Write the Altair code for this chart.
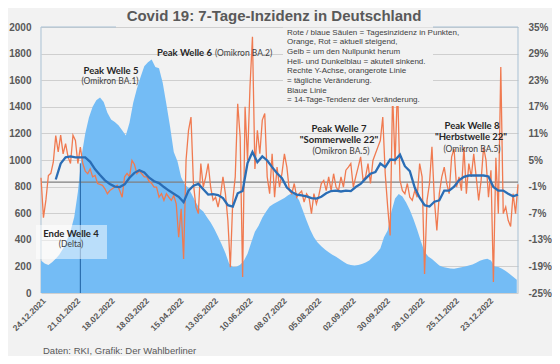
import altair as alt
import pandas as pd

# ---------------- data ----------------
# 7-day incidence, every 3 days starting 24.12.2021
incidence = [
    245, 222, 210, 232, 258, 290, 335, 395, 465, 570,
    760, 1030, 1200, 1320, 1400, 1450, 1469, 1436, 1355, 1305,
    1285, 1262, 1223, 1185, 1280, 1430, 1535, 1625, 1705, 1735,
    1755, 1700, 1690, 1580, 1420, 1250, 1060, 990, 870, 815,
    790, 735, 680, 636, 612, 570, 530, 482, 425, 365,
    300, 222, 196, 198, 212, 243, 295, 380, 460, 505,
    565, 610, 650, 670, 685, 700, 715, 735, 750, 740,
    696, 620, 545, 475, 420, 380, 352, 328, 307, 288,
    272, 254, 235, 218, 210, 207, 210, 218, 230, 245,
    272, 300, 335, 420, 470, 610, 710, 745, 725, 680,
    625, 555, 475, 390, 310, 275, 255, 232, 207, 196,
    190, 184, 183, 188, 193, 200, 207, 215, 228, 242,
    252, 258, 245, 200, 195, 183, 165, 144, 122, 100,
]

# daily change in %, every 2 days starting 24.12.2021
daily_change = [
    1.0, -8.0, -4.0, 1.5, 2.0, 4.5, 10.5, 6.8, 10.6, 6.4,
    8.7, 5.7, 4.2, 10.6, 9.4, 4.2, 7.9, 4.2, 2.5, 1.9,
    3.0, 1.2, 1.5, -0.3, -0.5, -0.7, -1.5, -2.6, -1.9, -1.5,
    -1.1, -0.7, -1.9, -3.4, 1.2, 2.0, 1.2, 4.9, 4.0, 1.9,
    2.5, 1.9, 1.2, 1.2, 0.2, -0.3, -1.1, -1.1,
    -3.4, -2.6, -4.1, -2.6, -3.4, -4.1, -3.0, -4.9, -12.4, -6.0,
    -17.3, 5.0, 11.7, 14.7, -0.3, -5.6, -7.1, 4.2, -1.1, 1.2,
    4.2, -1.1, -4.1, -3.4, -5.6, -3.0, 1.2, -2.6, -8.6, -19.2,
    -4.1, 1.2, 17.7, 10.2, -21.4, 17.0, 4.9, 21.5, 32.8, 3.0,
    11.7, 6.4, 14.0, 15.5, 1.2, -2.6, 6.4, -3.4, 3.4, -1.1,
    2.0, 6.4, 3.4, -1.9, -2.6, -0.3, -3.4, -2.6, -2.0, -4.5,
    -2.6, -3.4, -7.1, -2.6, -4.9, -3.0, -0.3, 0.4, -1.9, 1.2,
    -1.9, 1.9, -1.1, -1.9, 1.2, -1.1, 2.7, 3.4, 4.2, -1.1,
    1.2, 3.4, 5.7, 0.4, 1.2, 4.2, -0.3, 4.9, 6.4, 7.9,
    9.4, 14.7, 1.9, -5.6, -12.0, 20.0, 4.0, 22.0, 0.4, -1.9,
    -2.6, -0.3, -3.4, -4.1, -1.9, -3.4, 4.2, 1.2, -20.7, -4.1,
    -0.3, 8.0, -4.1, -10.9, -2.6, 1.2, 3.4, -0.3, -2.6, 5.7,
    7.5, -1.1, 1.2, -1.9, 7.9, -2.6, 4.2, 1.2, 6.4, 1.2,
    -4.1, 0.4, 7.9, 4.9, -3.4, 2.7, -22.5, 5.5, -7.1, 26.0,
    -7.1, -5.6, -8.6, -10.0, -2.6, -7.1, -0.5,
]

# 14-day trend in %, every 4 days starting 05.01.2022
trend_14 = [
    0.6, 4.2, 5.6, 5.8, 5.6, 5.6, 5.6, 4.6, 2.9, 1.6,
    0.4, -0.4, -1.0, -1.1, -0.5, 1.0, 2.1, 2.7, 2.2, 1.0,
    0.2, -0.2, -1.1, -1.9, -2.6, -3.3, -4.5, -1.9, -0.8, -0.4,
    -1.6, -2.8, -2.7, -2.9, -3.6, -5.2, -5.5, -2.5, -2.0, 4.3,
    6.8, 4.5, 5.8, 4.9, 3.4, 2.0, 0.9, -1.2, -2.2, -2.8,
    -3.0, -3.2, -3.6, -3.7, -3.3, -2.5, -2.0, -1.9, -2.1, -1.9,
    -2.0, -1.1, -0.4, 0.8, 1.9, 2.3, 4.2, 3.4, 5.1, 5.0,
    6.2, 3.6, 2.5, -1.2, -3.5, -5.2, -5.5, -4.4, -4.1, -1.9,
    -1.9, -1.0, 0.4, 1.2, 1.5, 1.5, 1.5, 1.5, 1.3, -1.1,
    -1.9, -1.9, -2.6, -3.2, -2.8,
]

tick_labels = [
    "24.12.2021", "21.01.2022", "18.02.2022", "18.03.2022", "15.04.2022",
    "13.05.2022", "10.06.2022", "08.07.2022", "05.08.2022", "02.09.2022",
    "30.09.2022", "28.10.2022", "25.11.2022", "23.12.2022",
]
left_ticks = [0, 200, 400, 600, 800, 1000, 1200, 1400, 1600, 1800, 2000]
right_ticks = [-25, -19, -13, -7, -1, 5, 11, 17, 23, 29, 35]

text_box_lines = [
    "Rote / blaue Säulen = Tagesinzidenz in Punkten,",
    "Orange, Rot = aktuell steigend,",
    "Gelb = um den Nullpunkt herum",
    "Hell- und Dunkelblau = akutell sinkend.",
    "Rechte Y-Achse, orangerote Linie",
    "= tägliche Veränderung.",
    " Blaue Linie",
    "= 14-Tage-Tendenz der Veränderung.",
]

START = pd.Timestamp("2021-12-24")
END = pd.Timestamp("2023-01-16")
WAVE4_END = "2022-01-25"

# ---------------- styling ----------------
BG = "#f2f2f2"
GRAY = "#595959"
AREA = "#74bcf5"
ORANGE = "#f07a50"
BLUE = "#2a6db5"
BORDER = "#a9c1d4"
AXFONT = "Liberation Sans"
ANNFONT = "Lato"
W, H = 477, 266


def series(vals, first_day, step):
    dates = [(START + pd.Timedelta(days=first_day + step * i)).strftime("%Y-%m-%d")
             for i in range(len(vals))]
    return pd.DataFrame({"date": dates, "value": vals})


def ms(ts):
    return int(pd.Timestamp(ts).tz_localize("UTC").timestamp() * 1000)


tick_ms = [ms(pd.to_datetime(t, format="%d.%m.%Y")) for t in tick_labels]

df_inc = series(incidence, 0, 3)
df_chg = series(daily_change, 0, 2)
df_trd = series(trend_14, 12, 4)

x_enc = alt.X(
    "date:T", title=None,
    scale=alt.Scale(type="utc", domain=[ms(START), ms(END)], nice=False),
    axis=alt.Axis(values=tick_ms, labelExpr="utcFormat(datum.value, '%d.%m.%Y')",
                  labelAngle=-45, labelFont=AXFONT, labelFontSize=8.5,
                  labelFontWeight="bold", labelColor=GRAY, ticks=False, tickSize=0,
                  domain=False, grid=False, labelPadding=3, labelOverlap=False,
                  labelBound=False, labelFlush=False),
)
inc_scale = alt.Scale(domain=[0, 2000], nice=False)
pct_scale = alt.Scale(domain=[-25, 35], nice=False, zero=False)

one = pd.DataFrame({"k": [0]})


def txt(s, x, y, size, weight="normal", color="#262626", align="center",
        font=ANNFONT, baseline="middle", **kw):
    return alt.Chart(one).mark_text(
        text=s, fontSize=size, fontWeight=weight, color=color, align=align,
        baseline=baseline, font=font, **kw
    ).encode(x=alt.value(x), y=alt.value(y))


def box(x, x2, y, y2, color, opacity=1.0):
    return alt.Chart(one).mark_rect(color=color, opacity=opacity).encode(
        x=alt.value(x), x2=alt.value(x2), y=alt.value(y), y2=alt.value(y2))


def line(x, x2, y, y2, color, w=1.0):
    return alt.Chart(one).mark_rule(color=color, strokeWidth=w).encode(
        x=alt.value(x), x2=alt.value(x2), y=alt.value(y), y2=alt.value(y2))


area = alt.Chart(df_inc).mark_area(color=AREA, opacity=1).encode(
    x=x_enc,
    y=alt.Y("value:Q", scale=inc_scale,
            axis=alt.Axis(values=left_ticks, format="d", title=None, grid=True,
                          gridColor="#cfcfcf", gridWidth=1, domain=False, ticks=False,
                          tickSize=0, labelPadding=10, labelFont=AXFONT, labelFontSize=10,
                          labelFontWeight="bold", labelColor=GRAY)),
)

zero_line = alt.Chart(pd.DataFrame({"value": [0]})).mark_rule(
    color="#7f7f7f", strokeWidth=1.4).encode(
    y=alt.Y("value:Q", scale=pct_scale, axis=None))

wave4 = alt.Chart(pd.DataFrame({"date": [WAVE4_END], "lo": [0], "hi": [975]})).mark_rule(
    color="#1f5fa0", strokeWidth=1).encode(
    x=x_enc, y=alt.Y("lo:Q", scale=inc_scale, axis=None), y2="hi:Q")

orange = alt.Chart(df_chg).mark_line(color=ORANGE, strokeWidth=1.3).encode(
    x=x_enc,
    y=alt.Y("value:Q", scale=pct_scale,
            axis=alt.Axis(orient="right", values=right_ticks, labelExpr="datum.value + '%'",
                          title=None, grid=False, domain=False, ticks=False, tickSize=0,
                          labelPadding=10, labelFont=AXFONT, labelFontSize=10,
                          labelFontWeight="bold", labelColor=GRAY)),
)

blue = alt.Chart(df_trd).mark_line(color=BLUE, strokeWidth=2.3).encode(
    x=x_enc, y=alt.Y("value:Q", scale=pct_scale, axis=None))

layers = [
    line(0, 0, 0, H, BORDER),
    line(W, W, 0, H, BORDER),
    line(0, 75, 0, 0, BORDER),
    line(392, W, 0, 0, BORDER),
    area, zero_line, wave4, orange, blue,
    box(-5, 66, 198, 232, "#ffffff", 0.5),
    txt("Ende Welle 4", 30, 206.5, 9.5, "bold"),
    txt("(Delta)", 30, 216.5, 8.5, color="#404040"),
    box(242, 392, 0.5, 79, BG),
    txt(text_box_lines, 246, 1.5, 8, color="#404040", align="left", font=AXFONT,
        baseline="top", lineHeight=9.7),
    txt("Peak Welle 5", 70, 43.5, 9.5, "bold"),
    txt("(Omikron BA.1)", 69, 54, 8.5, color="#404040"),
    txt("Peak Welle 6", 171, 26, 9.5, "bold", align="right"),
    txt("(Omikron BA.2)", 174, 26, 8.5, color="#404040", align="left"),
    txt("Peak Welle 7", 298, 102, 9.5, "bold"),
    txt("\"Sommerwelle 22\"", 298, 112.5, 9.5, "bold"),
    txt("(Omikron BA.5)", 300, 123.5, 8.5, color="#404040"),
    txt("Peak Welle 8", 431, 98.5, 9.5, "bold"),
    txt("\"Herbstwelle 22\"", 430, 109.5, 9.5, "bold"),
    txt("(Omikron BA.5)", 431, 121.5, 8.5, color="#404040"),
    txt("Covid 19: 7-Tage-Inzidenz in Deutschland", 233, -6, 15, "bold", color=GRAY,
        font=AXFONT, baseline="alphabetic"),
    txt("Daten: RKI, Grafik: Der Wahlberliner", 2, 324, 9.5, color=GRAY,
        font=AXFONT, align="left"),
]

chart = alt.layer(*layers).resolve_scale(y="independent").properties(
    width=W, height=H,
    autosize=alt.AutoSizeParams(type="none"),
    padding={"left": 33, "top": 19, "right": 34, "bottom": 63},
    background=BG,
).configure_view(stroke=None, fill=BG)

chart.save("out.html", embed_options={"renderer": "svg", "actions": False})
